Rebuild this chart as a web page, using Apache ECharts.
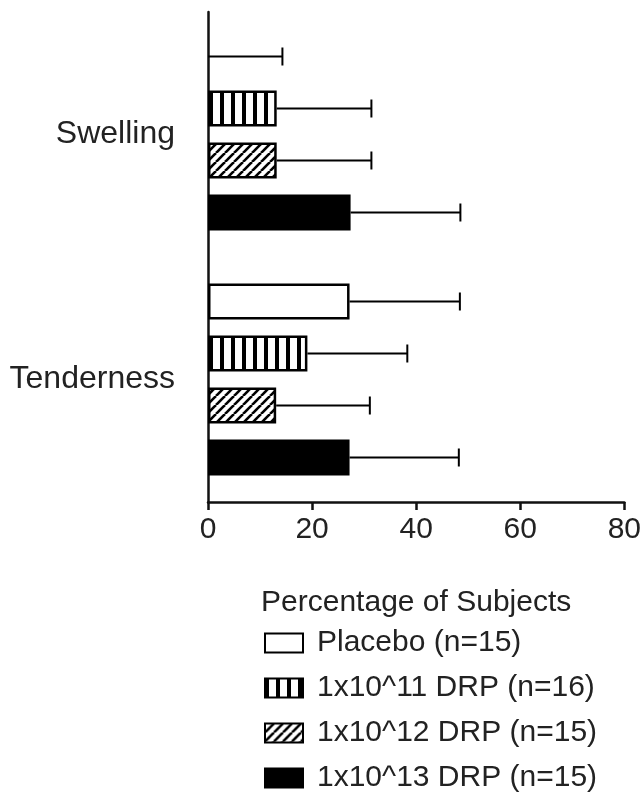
<!DOCTYPE html>
<html>
<head>
<meta charset="utf-8">
<script src="https://cdn.jsdelivr.net/npm/echarts@6/dist/echarts.min.js"></script>
<style>
html,body{margin:0;padding:0;background:#fff;}
#chart{width:644px;height:796px;}
</style>
</head>
<body>
<div id="chart"></div>
<script>
// ---- data ----
const categories = ['Swelling', 'Tenderness'];
const seriesNames = ['Placebo (n=15)', '1x10^11 DRP (n=16)', '1x10^12 DRP (n=15)', '1x10^13 DRP (n=15)'];
const placeboValues = [0, 27.2];
const placeboUpper = [14.3, 48.4];
const drp11Values = [13.2, 19.1];
const drp11Upper = [31.4, 38.3];
const drp12Values = [13.2, 13.1];
const drp12Upper = [31.4, 31.1];
const drp13Values = [27.4, 27.2];
const drp13Upper = [48.5, 48.2];
const xTicks = [0, 20, 40, 60, 80];
const xAxisTitle = 'Percentage of Subjects';

const values = [placeboValues, drp11Values, drp12Values, drp13Values];
const uppers = [placeboUpper, drp11Upper, drp12Upper, drp13Upper];

// ---- patterns ----
function stripeCanvas() {
  const c = document.createElement('canvas');
  c.width = 11; c.height = 11;
  const g = c.getContext('2d');
  g.fillStyle = '#fff'; g.fillRect(0, 0, 11, 11);
  g.fillStyle = '#000'; g.fillRect(0, 0, 4, 11);
  return c;
}
function hatchCanvas() {
  const s = 9;
  const c = document.createElement('canvas');
  c.width = s; c.height = s;
  const g = c.getContext('2d');
  g.fillStyle = '#fff'; g.fillRect(0, 0, s, s);
  g.strokeStyle = '#000'; g.lineWidth = 2.6;
  for (let k = -1; k <= 1; k++) {
    g.beginPath();
    g.moveTo(k * s, s);
    g.lineTo(k * s + s, 0);
    g.stroke();
  }
  return c;
}
const fills = [
  '#ffffff',
  { image: stripeCanvas(), repeat: 'repeat' },
  { image: hatchCanvas(), repeat: 'repeat' },
  '#000000'
];

const BAR_W = 36;
const BAR_GAP = 16;
const PITCH = BAR_W + BAR_GAP;

const FONT = 'Liberation Sans, Arial, sans-serif';
const TXT = '#222';
const FS = 30;

const series = [];
seriesNames.forEach((name, i) => {
  series.push({
    name: name,
    type: 'bar',
    barWidth: BAR_W,
    barGap: (BAR_GAP / BAR_W * 100) + '%',
    data: values[i].map(v => v === 0 ? { value: v, itemStyle: { borderWidth: 0 } } : v),
    itemStyle: { color: fills[i], borderColor: '#000', borderWidth: 2.5 },
    emphasis: { disabled: true },
    z: 2
  });
});
seriesNames.forEach((name, i) => {
  series.push({
    name: 'err' + i,
    type: 'custom',
    data: categories.map((c, j) => [uppers[i][j], j, values[i][j]]),
    encode: { x: 0, y: 1 },
    z: 3,
    renderItem: function (params, api) {
      const up = api.value(0), cat = api.value(1), val = api.value(2);
      const off = (i - 1.5) * PITCH;
      const p0 = api.coord([val, cat]);
      const p1 = api.coord([up, cat]);
      const y = p0[1] + off;
      const st = { stroke: '#000', lineWidth: 2 };
      return {
        type: 'group',
        children: [
          { type: 'line', shape: { x1: p0[0], y1: y, x2: p1[0], y2: y }, style: st },
          { type: 'line', shape: { x1: p1[0], y1: y - 9, x2: p1[0], y2: y + 9 }, style: st }
        ]
      };
    }
  });
});

const chart = echarts.init(document.getElementById('chart'), null, { renderer: 'canvas' });
chart.setOption({
  animation: false,
  backgroundColor: '#fff',
  textStyle: { fontFamily: FONT, color: TXT },
  grid: { left: 208, right: 19, top: 12, bottom: 294, containLabel: false },
  xAxis: {
    type: 'value',
    min: xTicks[0], max: xTicks[xTicks.length - 1], interval: xTicks[1] - xTicks[0],
    name: xAxisTitle,
    nameLocation: 'middle',
    nameGap: 86,
    nameTextStyle: { fontSize: FS, color: TXT, fontFamily: FONT },
    axisLine: { show: true, lineStyle: { color: '#111', width: 2.5 } },
    axisTick: { show: true, length: 8, lineStyle: { color: '#111', width: 2.5 } },
    axisLabel: { fontSize: FS, color: TXT, margin: 13, fontFamily: FONT },
    splitLine: { show: false }
  },
  yAxis: {
    type: 'category',
    inverse: true,
    data: categories,
    axisLine: { show: true, lineStyle: { color: '#111', width: 2.5 } },
    axisTick: { show: false },
    axisLabel: { fontSize: 32, color: TXT, margin: 33, fontFamily: FONT }
  },
  legend: {
    data: seriesNames,
    orient: 'vertical',
    left: 264,
    top: 628,
    height: 170,
    padding: 0,
    itemWidth: 38,
    itemHeight: 19,
    itemGap: 15,
    icon: 'rect',
    selectedMode: false,
    textStyle: { fontSize: FS, color: TXT, fontFamily: FONT, lineHeight: 30, padding: [0, 0, 0, 9] }
  },
  series: series
});
</script>
</body>
</html>
